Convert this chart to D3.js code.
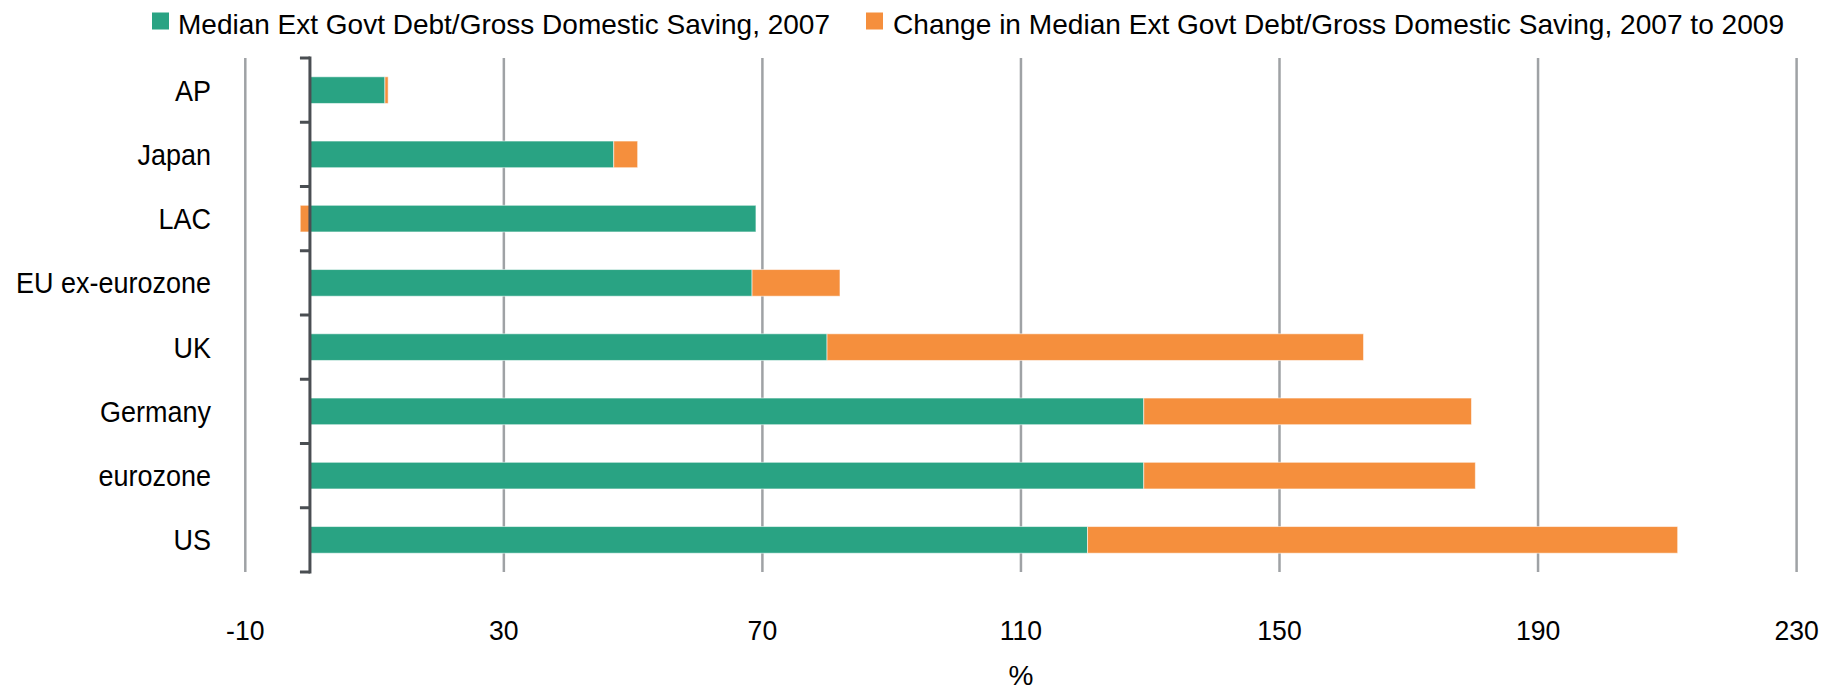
<!DOCTYPE html>
<html>
<head>
<meta charset="utf-8">
<script src="https://cdn.jsdelivr.net/npm/d3@7"></script>
<style>
  html, body { margin: 0; padding: 0; background: #fff; }
  svg { display: block; font-family: "Liberation Sans", Arial, sans-serif; }
</style>
</head>
<body>
<svg id="chart" width="1840" height="692"></svg>
<script>
const categories = ["AP", "Japan", "LAC", "EU ex-eurozone", "UK", "Germany", "eurozone", "US"];
const level2007 = [11.6, 47.0, 69.0, 68.4, 80.0, 129.0, 129.0, 120.3];
const change2007to2009 = [0.5, 3.7, -1.5, 13.6, 83.0, 50.7, 51.3, 91.3];
const xTicks = [-10, 30, 70, 110, 150, 190, 230];
const seriesNames = ["Median Ext Govt Debt/Gross Domestic Saving, 2007",
                     "Change in Median Ext Govt Debt/Gross Domestic Saving, 2007 to 2009"];
const seriesColors = ["#29a383", "#f58f3d"];
const axisTitle = "%";

(function () {
const svg = d3.select("#chart");
const plotTop = 58, plotBottom = 572, plotLeft = 245.3, plotRight = 1796.6;

const x = d3.scaleLinear().domain([-10, 230]).range([plotLeft, plotRight]);
const yBand = d3.scaleBand().domain(categories).range([plotTop, plotBottom]).padding(0);
const y = d3.scaleBand().domain(categories).range([plotTop, plotBottom])
  .paddingInner(0.585).paddingOuter(0.2925);

// gridlines
svg.append("g").selectAll("line").data(xTicks).join("line")
  .attr("x1", d => x(d)).attr("x2", d => x(d))
  .attr("y1", plotTop).attr("y2", plotBottom)
  .attr("stroke", "#9fa2a5").attr("stroke-width", 2.5);

// stacked bars (diverging)
const rows = categories.map((c, i) => ({cat: c, a: level2007[i], b: change2007to2009[i]}));
const stack = d3.stack().keys(["a", "b"]).offset(d3.stackOffsetDiverging);
const layers = stack(rows);

svg.append("g").selectAll("g").data(layers).join("g")
  .attr("fill", (d, i) => seriesColors[i])
  .selectAll("rect").data(d => d).join("rect")
  .attr("x", d => x(Math.min(d[0], d[1])))
  .attr("width", d => Math.abs(x(d[1]) - x(d[0])))
  .attr("y", d => y(d.data.cat))
  .attr("height", y.bandwidth())
  .attr("stroke", "rgba(255,255,255,0.55)")
  .attr("stroke-width", 1);

// y axis line with ticks at category boundaries
const x0 = x(0);
const axisG = svg.append("g");
axisG.append("line")
  .attr("x1", x0).attr("x2", x0).attr("y1", plotTop - 1.5).attr("y2", plotBottom + 1.5)
  .attr("stroke", "#4a4e52").attr("stroke-width", 3);
const boundaries = categories.map(c => yBand(c)).concat([plotBottom]);
axisG.selectAll("line.tick").data(boundaries).join("line")
  .attr("class", "tick")
  .attr("x1", x0 - 10).attr("x2", x0)
  .attr("y1", d => d).attr("y2", d => d)
  .attr("stroke", "#4a4e52").attr("stroke-width", 3);

// category labels
svg.append("g").selectAll("text").data(categories).join("text")
  .attr("transform", d => `translate(211,${yBand(d) + yBand.bandwidth() / 2 + 10.5}) scale(0.93,1)`)
  .attr("text-anchor", "end")
  .attr("font-size", 29)
  .attr("fill", "#000")
  .text(d => d);

// x tick labels
svg.append("g").selectAll("text").data(xTicks).join("text")
  .attr("transform", d => `translate(${x(d)},640) scale(0.95,1)`)
  .attr("text-anchor", "middle")
  .attr("font-size", 28)
  .attr("fill", "#000")
  .text(d => d);

// axis title
svg.append("text")
  .attr("x", 1021).attr("y", 685)
  .attr("text-anchor", "middle")
  .attr("font-size", 28)
  .attr("fill", "#000")
  .text(axisTitle);

// legend
const legendItems = [
  {sx: 152, tx: 178, len: 652},
  {sx: 866, tx: 893, len: 891}
];
const lg = svg.append("g");
legendItems.forEach((it, i) => {
  lg.append("rect").attr("x", it.sx).attr("y", 12.5).attr("width", 17).attr("height", 17)
    .attr("fill", seriesColors[i]);
  lg.append("text").attr("x", it.tx).attr("y", 34)
    .attr("font-size", 28).attr("fill", "#000")
    .attr("textLength", it.len).attr("lengthAdjust", "spacingAndGlyphs")
    .text(seriesNames[i]);
});
})();
</script>
</body>
</html>
